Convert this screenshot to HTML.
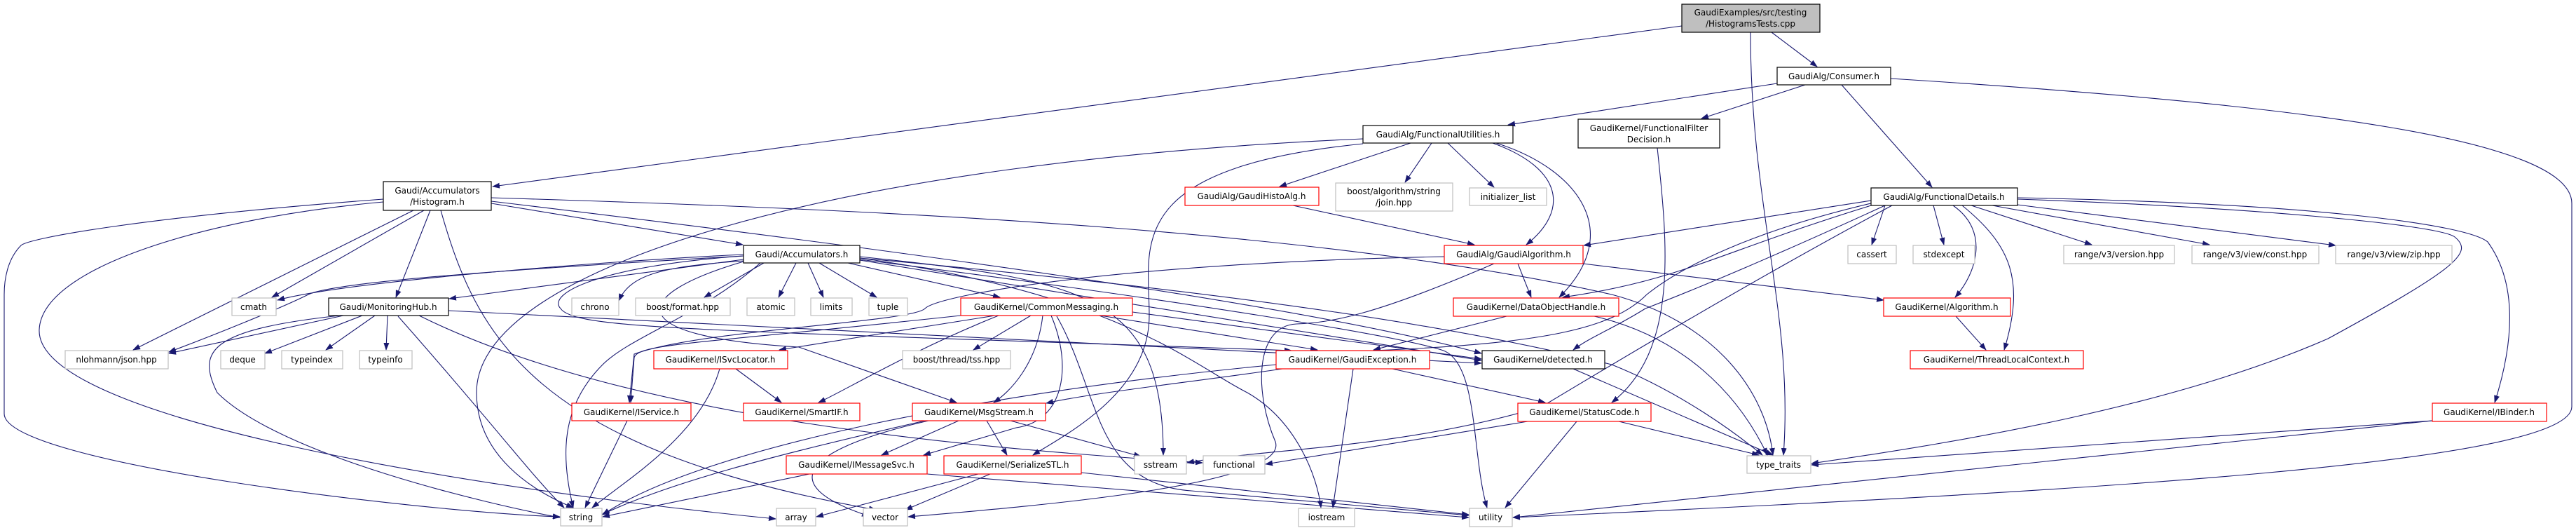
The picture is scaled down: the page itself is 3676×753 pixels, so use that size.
<!DOCTYPE html>
<html><head><meta charset="utf-8"><style>
html,body{margin:0;padding:0;background:#fff}
svg{display:block}
text{font-family:"DejaVu Sans","Liberation Sans",sans-serif;font-size:12px;fill:#000;text-anchor:middle}
.e{fill:none;stroke:#191970;stroke-width:1.1;marker-end:url(#a)}
.b{fill:#fff;stroke:#000;stroke-width:1.2}
.r{fill:#fff;stroke:#ff0000;stroke-width:1.2}
.g{fill:#fff;stroke:#bfbfbf;stroke-width:1.2}
</style></head><body>
<svg width="3676" height="753" viewBox="0 0 3676 753" xmlns="http://www.w3.org/2000/svg">
<defs><marker id="a" markerUnits="userSpaceOnUse" markerWidth="11" markerHeight="8" refX="10" refY="4" orient="auto"><path d="M0,0 L11,4 L0,8 z" fill="#191970"/></marker></defs>
<g>
<path class="e" d="M2400,37 L703,266"/>
<path class="e" d="M2528,46 L2593,95"/>
<path class="e" d="M2498,46 C2498,300 2560,450 2545,649"/>
<path class="e" d="M2536,119 L2152,178"/>
<path class="e" d="M2576,121 L2428,169"/>
<path class="e" d="M2628,121 L2757,267"/>
<path class="e" d="M2698,112 C3300,150 3670,200 3670,290 L3670,580 C3670,660 3000,700 2159,738"/>
<path class="e" d="M2013,204 L1826,266"/>
<path class="e" d="M2043,204 L2005,260"/>
<path class="e" d="M2066,204 L2132,267"/>
<path class="e" d="M2130,204 C2230,240 2240,300 2178,349"/>
<path class="e" d="M2135,204 C2250,240 2320,330 2225,424"/>
<path class="e" d="M1945,198 C1200,230 680,380 680,560 C680,650 760,700 818,724"/>
<path class="e" d="M1945,205 C1600,240 1640,350 1640,450 C1640,560 1520,620 1474,649"/>
<path class="e" d="M1845,293 L2104,349"/>
<path class="e" d="M2166,376 L2185,424"/>
<path class="e" d="M2259,376 L2688,428"/>
<path class="e" d="M2061,366 C1600,375 1340,420 1320,440 C1300,460 1000,470 905,505 L898,574"/>
<path class="e" d="M2132,376 C1960,450 1900,460 1850,462 C1790,465 1790,560 1820,630 C1840,690 1500,720 1296,737"/>
<path class="e" d="M547,284 C200,310 40,340 30,350 C10,370 6,400 6,420 L6,590 C6,660 600,730 799,737"/>
<path class="e" d="M547,288 C300,310 60,380 56,470 C50,600 700,700 1107,740"/>
<path class="e" d="M590,300 L190,499"/>
<path class="e" d="M605,300 L388,424"/>
<path class="e" d="M614,300 L565,424"/>
<path class="e" d="M629,300 C680,480 760,640 1250,727"/>
<path class="e" d="M701,290 L1060,349"/>
<path class="e" d="M701,282 C1300,300 1900,330 2300,420 C2450,460 2520,560 2530,649"/>
<path class="e" d="M701,287 Q1800,418 2114,504"/>
<path class="e" d="M1061,363 C900,370 500,400 396,428"/>
<path class="e" d="M1061,365 C800,380 480,400 440,420 C400,440 300,480 241,502"/>
<path class="e" d="M1061,370 L641,426"/>
<path class="e" d="M1061,372 C950,380 900,390 883,429"/>
<path class="e" d="M1090,375 L1005,424"/>
<path class="e" d="M1136,375 L1111,424"/>
<path class="e" d="M1153,375 L1175,424"/>
<path class="e" d="M1169,375 L1251,424"/>
<path class="e" d="M1210,375 L1427,424"/>
<path class="e" d="M1061,365 C850,380 780,420 800,440 C820,470 1000,470 1843,500"/>
<path class="e" d="M1085,375 C1000,450 900,480 860,520 C800,580 800,650 818,724"/>
<path class="e" d="M1061,373 C900,420 880,480 1140,495 L1365,574"/>
<path class="e" d="M1227,366 C1550,400 1660,420 1660,649"/>
<path class="e" d="M1227,368 C1600,420 1700,520 1780,560 C1850,600 1880,680 1885,724"/>
<path class="e" d="M1227,370 C1700,430 2000,480 2060,500 C2110,520 2100,650 2122,724"/>
<path class="e" d="M1227,371 L2114,514"/>
<path class="e" d="M1227,368 C1800,420 2100,470 2300,520 C2400,560 2480,620 2515,649"/>
<path class="e" d="M1420,450 L1112,499"/>
<path class="e" d="M1371,450 C1000,490 910,490 905,510 L900,574"/>
<path class="e" d="M1425,450 C1300,500 1200,560 1168,574"/>
<path class="e" d="M1471,450 L1389,499"/>
<path class="e" d="M1488,450 C1480,520 1440,560 1418,574"/>
<path class="e" d="M1500,450 C1530,520 1520,600 1450,610 L1318,649"/>
<path class="e" d="M1508,451 C1570,560 1560,690 1700,700 L2096,735"/>
<path class="e" d="M1570,450 L1880,499"/>
<path class="e" d="M1616,445 L2114,512"/>
<path class="e" d="M490,450 L241,504"/>
<path class="e" d="M517,450 L378,504"/>
<path class="e" d="M535,450 L465,499"/>
<path class="e" d="M553,450 L551,499"/>
<path class="e" d="M568,451 C700,600 760,680 805,724"/>
<path class="e" d="M485,450 C300,470 280,500 310,560 C400,650 700,720 799,738"/>
<path class="e" d="M640,443 L2114,518"/>
<path class="e" d="M598,450 C900,600 1400,640 1716,660"/>
<path class="e" d="M1050,526 L1115,574"/>
<path class="e" d="M1027,526 C1000,620 900,680 845,724"/>
<path class="e" d="M895,600 L835,724"/>
<path class="e" d="M1368,600 L1258,649"/>
<path class="e" d="M1408,600 L1437,649"/>
<path class="e" d="M1442,600 L1628,651"/>
<path class="e" d="M1320,600 C1100,650 950,690 859,734"/>
<path class="e" d="M1325,600 C1150,640 1100,690 1240,736"/>
<path class="e" d="M1155,676 L860,737"/>
<path class="e" d="M1323,676 L2096,738"/>
<path class="e" d="M1396,676 L1165,737"/>
<path class="e" d="M1413,676 L1292,727"/>
<path class="e" d="M1543,674 L2096,734"/>
<path class="e" d="M1830,526 C1700,545 1560,560 1493,575"/>
<path class="e" d="M1987,526 L2205,574"/>
<path class="e" d="M1931,526 L1902,724"/>
<path class="e" d="M1821,520 C1400,560 1000,640 860,734"/>
<path class="e" d="M2180,601 L1806,662"/>
<path class="e" d="M2250,601 L2148,724"/>
<path class="e" d="M2310,601 L2510,649"/>
<path class="e" d="M2150,451 L1960,499"/>
<path class="e" d="M2275,451 C2400,480 2480,560 2522,649"/>
<path class="e" d="M2245,526 L2530,649"/>
<path class="e" d="M2365,211 C2380,350 2395,500 2300,574"/>
<path class="e" d="M2670,286 L2260,350"/>
<path class="e" d="M2680,290 C2450,360 2400,400 2230,424"/>
<path class="e" d="M2690,293 C2500,380 2400,420 2348,440 C2300,470 2270,480 2245,499"/>
<path class="e" d="M2670,290 C2500,330 2400,380 2350,420 C2300,470 2200,490 1960,500"/>
<path class="e" d="M2700,293 C2500,400 2300,520 2200,580 C2000,640 1800,640 1694,660"/>
<path class="e" d="M2690,293 L2671,349"/>
<path class="e" d="M2759,293 L2774,349"/>
<path class="e" d="M2813,293 L2985,349"/>
<path class="e" d="M2843,293 L3153,349"/>
<path class="e" d="M2879,292 L3333,350"/>
<path class="e" d="M2787,293 C2840,330 2820,390 2790,424"/>
<path class="e" d="M2800,293 C2870,350 2890,400 2860,499"/>
<path class="e" d="M2879,282 C3300,290 3520,320 3550,345 C3590,400 3590,480 3560,574"/>
<path class="e" d="M2879,284 C3200,295 3480,320 3503,338 C3530,360 3509,381 3322,483 C3100,580 2800,630 2585,661"/>
<path class="e" d="M2791,451 L2834,499"/>
<path class="e" d="M3471,600 L2585,663"/>
<path class="e" d="M3471,600 L2159,738"/>
</g>
<g>
<rect x="2400" y="6" width="197" height="40" fill="#bfbfbf" stroke="#000" stroke-width="1.2"/>
<text x="2498" y="22">GaudiExamples/src/testing</text><text x="2498" y="38">/HistogramsTests.cpp</text>
<rect class="b" x="2536" y="96" width="162" height="25"/><text x="2617" y="113">GaudiAlg/Consumer.h</text>
<rect class="b" x="1945" y="179" width="214" height="25"/><text x="2052" y="196">GaudiAlg/FunctionalUtilities.h</text>
<rect class="b" x="2252" y="170" width="202" height="41"/><text x="2353" y="187">GaudiKernel/FunctionalFilter</text><text x="2353" y="203">Decision.h</text>
<rect class="r" x="1691" y="267" width="191" height="26"/><text x="1786" y="284">GaudiAlg/GaudiHistoAlg.h</text>
<rect class="g" x="1906" y="261" width="167" height="40"/><text x="1989" y="277">boost/algorithm/string</text><text x="1989" y="293">/join.hpp</text>
<rect class="g" x="2097" y="268" width="110" height="25"/><text x="2152" y="285">initializer_list</text>
<rect class="r" x="2061" y="350" width="198" height="26"/><text x="2160" y="367">GaudiAlg/GaudiAlgorithm.h</text>
<rect class="r" x="2074" y="425" width="236" height="26"/><text x="2192" y="442">GaudiKernel/DataObjectHandle.h</text>
<rect class="r" x="1821" y="500" width="219" height="26"/><text x="1930" y="517">GaudiKernel/GaudiException.h</text>
<rect class="b" x="2115" y="500" width="175" height="26"/><text x="2202" y="517">GaudiKernel/detected.h</text>
<rect class="r" x="2166" y="575" width="190" height="26"/><text x="2261" y="592">GaudiKernel/StatusCode.h</text>
<rect class="g" x="2493" y="650" width="91" height="25"/><text x="2538" y="667">type_traits</text>
<rect class="g" x="1853" y="725" width="80" height="26"/><text x="1893" y="742">iostream</text>
<rect class="g" x="2097" y="725" width="61" height="26"/><text x="2127" y="742">utility</text>
<rect class="b" x="2670" y="268" width="209" height="25"/><text x="2774" y="285">GaudiAlg/FunctionalDetails.h</text>
<rect class="g" x="2637" y="350" width="69" height="26"/><text x="2671" y="367">cassert</text>
<rect class="g" x="2730" y="350" width="88" height="26"/><text x="2774" y="367">stdexcept</text>
<rect class="g" x="2945" y="350" width="158" height="26"/><text x="3024" y="367">range/v3/version.hpp</text>
<rect class="g" x="3128" y="350" width="181" height="26"/><text x="3218" y="367">range/v3/view/const.hpp</text>
<rect class="g" x="3333" y="350" width="166" height="26"/><text x="3416" y="367">range/v3/view/zip.hpp</text>
<rect class="r" x="2688" y="425" width="181" height="26"/><text x="2778" y="442">GaudiKernel/Algorithm.h</text>
<rect class="r" x="2726" y="500" width="247" height="26"/><text x="2849" y="517">GaudiKernel/ThreadLocalContext.h</text>
<rect class="r" x="3471" y="575" width="163" height="26"/><text x="3552" y="592">GaudiKernel/IBinder.h</text>
<rect class="b" x="1061" y="350" width="166" height="25"/><text x="1144" y="367">Gaudi/Accumulators.h</text>
<rect class="g" x="907" y="425" width="135" height="25"/><text x="974" y="442">boost/format.hpp</text>
<rect class="g" x="1066" y="425" width="68" height="25"/><text x="1100" y="442">atomic</text>
<rect class="g" x="1157" y="425" width="59" height="25"/><text x="1186" y="442">limits</text>
<rect class="g" x="1240" y="425" width="55" height="25"/><text x="1267" y="442">tuple</text>
<rect class="r" x="1371" y="425" width="245" height="25"/><text x="1493" y="442">GaudiKernel/CommonMessaging.h</text>
<rect class="r" x="933" y="500" width="191" height="26"/><text x="1028" y="517">GaudiKernel/ISvcLocator.h</text>
<rect class="g" x="1288" y="500" width="154" height="26"/><text x="1365" y="517">boost/thread/tss.hpp</text>
<rect class="r" x="816" y="575" width="170" height="25"/><text x="901" y="592">GaudiKernel/IService.h</text>
<rect class="r" x="1061" y="575" width="166" height="25"/><text x="1144" y="592">GaudiKernel/SmartIF.h</text>
<rect class="r" x="1302" y="575" width="190" height="25"/><text x="1397" y="592">GaudiKernel/MsgStream.h</text>
<rect class="r" x="1122" y="650" width="201" height="26"/><text x="1222" y="667">GaudiKernel/IMessageSvc.h</text>
<rect class="r" x="1347" y="650" width="196" height="26"/><text x="1445" y="667">GaudiKernel/SerializeSTL.h</text>
<rect class="g" x="1619" y="650" width="74" height="26"/><text x="1656" y="667">sstream</text>
<rect class="g" x="1717" y="650" width="88" height="26"/><text x="1761" y="667">functional</text>
<rect class="g" x="1108" y="725" width="56" height="25"/><text x="1136" y="742">array</text>
<rect class="g" x="1232" y="725" width="63" height="25"/><text x="1263" y="742">vector</text>
<rect class="b" x="547" y="259" width="154" height="41"/><text x="624" y="276">Gaudi/Accumulators</text><text x="624" y="292">/Histogram.h</text>
<rect class="g" x="331" y="425" width="63" height="25"/><text x="362" y="442">cmath</text>
<rect class="g" x="816" y="425" width="67" height="25"/><text x="849" y="442">chrono</text>
<rect class="b" x="469" y="425" width="171" height="25"/><text x="554" y="442">Gaudi/MonitoringHub.h</text>
<rect class="g" x="93" y="500" width="147" height="26"/><text x="166" y="517">nlohmann/json.hpp</text>
<rect class="g" x="315" y="500" width="63" height="26"/><text x="346" y="517">deque</text>
<rect class="g" x="402" y="500" width="87" height="26"/><text x="445" y="517">typeindex</text>
<rect class="g" x="513" y="500" width="75" height="26"/><text x="550" y="517">typeinfo</text>
<rect class="g" x="800" y="725" width="59" height="25"/><text x="829" y="742">string</text>
</g>
</svg>
</body></html>
